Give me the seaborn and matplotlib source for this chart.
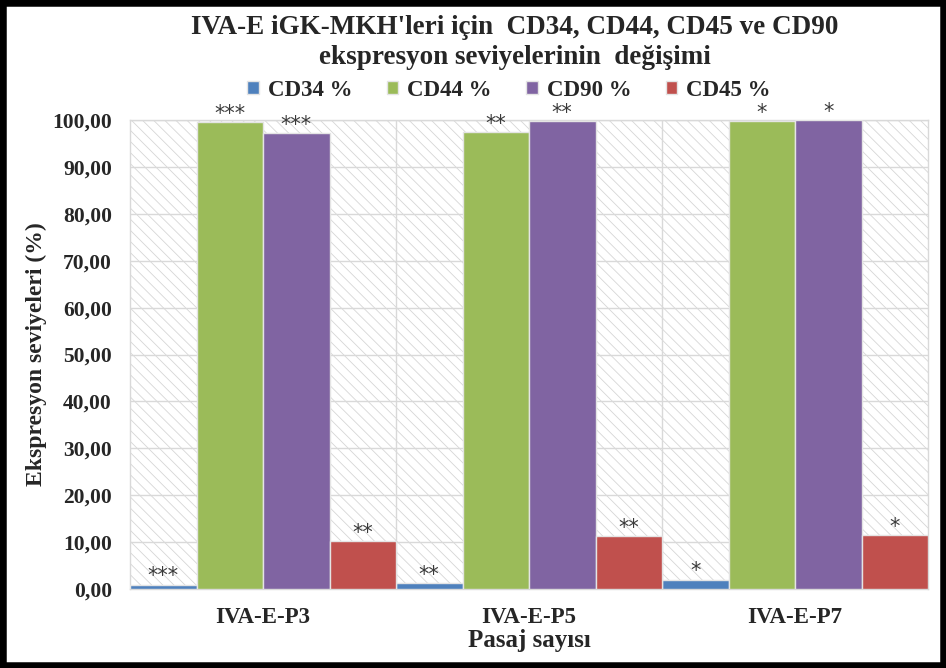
import matplotlib
matplotlib.use("Agg")
import matplotlib.pyplot as plt
from matplotlib.patches import Rectangle
import seaborn as sns
import pandas as pd

groups = ["IVA-E-P3", "IVA-E-P5", "IVA-E-P7"]
markers = ["CD34 %", "CD44 %", "CD90 %", "CD45 %"]
cd34 = [0.9, 1.3, 2.0]
cd44 = [99.5, 97.4, 99.8]
cd90 = [97.2, 99.8, 99.9]
cd45 = [10.2, 11.3, 11.5]
sig_cd34 = ["***", "**", "*"]
sig_cd44 = ["***", "**", "*"]
sig_cd90 = ["***", "**", "*"]
sig_cd45 = ["**", "**", "*"]
yticks = [0, 10, 20, 30, 40, 50, 60, 70, 80, 90, 100]

colors = ["#4F81BD", "#9BBB59", "#8064A2", "#C0504D"]

rows = []
for m, vals in zip(markers, [cd34, cd44, cd90, cd45]):
    for g, v in zip(groups, vals):
        rows.append({"Pasaj": g, "Marker": m, "Value": v})
df = pd.DataFrame(rows)

sns.set_style("white")
plt.rcParams["font.family"] = ["Liberation Serif", "DejaVu Serif"]
plt.rcParams["hatch.linewidth"] = 0.6

fig = plt.figure(figsize=(9.46, 6.68), dpi=100)
ax = fig.add_axes([130 / 946, 1 - 589 / 668, (928 - 130) / 946, (589 - 120) / 668])

# hatched background
bg = Rectangle((0, 0), 1, 1, transform=ax.transAxes, facecolor="white",
               edgecolor="#d6d6d6", hatch="\\\\\\", linewidth=0, zorder=0.1)
ax.add_patch(bg)

sns.barplot(data=df, x="Pasaj", y="Value", hue="Marker", hue_order=markers,
            order=groups, palette=colors, saturation=1, width=1.0, gap=0,
            dodge=True, edgecolor="#e4e4e4", linewidth=1.0, ax=ax, zorder=3)

ax.set_ylim(0, 100)
ax.set_xlim(-0.5, 2.5)
ax.set_yticks(yticks)
ax.set_yticklabels([f"{t:.2f}".replace(".", ",") for t in yticks],
                   fontsize=15.5, fontweight="bold")
for lbl in ax.get_xticklabels():
    lbl.set_fontsize(16.5)
    lbl.set_fontweight("bold")
ax.tick_params(axis="y", length=0, pad=13)
ax.tick_params(axis="x", length=0, pad=13)

ax.grid(axis="y", color="#d9d9d9", linewidth=1.0, zorder=0.5)
for xb in [0.5, 1.5]:
    ax.axvline(xb, color="#d9d9d9", linewidth=1.0, zorder=0.5)
for s in ax.spines.values():
    s.set_color("#d9d9d9")
    s.set_linewidth(1.0)

ax.set_xlabel("Pasaj sayısı", fontsize=18, fontweight="bold", labelpad=1)
ax.set_ylabel("Ekspresyon seviyeleri (%)", fontsize=17, fontweight="bold", labelpad=4)

# significance labels
for cont, sigs in zip(ax.containers, [sig_cd34, sig_cd44, sig_cd90, sig_cd45]):
    for bar, sig in zip(cont.patches, sigs):
        ax.annotate(sig, (bar.get_x() + bar.get_width() / 2, bar.get_height()),
                    xytext=(0, 6), textcoords="offset points", ha="center",
                    va="center", fontsize=15, color="#3a3a3a",
                    annotation_clip=False, zorder=5,
                    family=["DejaVu Sans"])

handles, labels = ax.get_legend_handles_labels()
if ax.get_legend() is not None:
    ax.get_legend().remove()
fig.legend(handles, labels, loc="center", bbox_to_anchor=(509 / 946, 1 - 90 / 668),
           ncol=4, frameon=False, handlelength=0.5, handleheight=0.5,
           handletextpad=0.4, columnspacing=1.5,
           prop={"family": "Liberation Serif", "weight": "bold", "size": 16.5})

fig.text(515 / 946, 1 - 27 / 668, "IVA-E iGK-MKH'leri için  CD34, CD44, CD45 ve CD90",
         ha="center", va="center", fontsize=19.5, fontweight="bold")
fig.text(515 / 946, 1 - 57 / 668, "ekspresyon seviyelerinin  değişimi",
         ha="center", va="center", fontsize=19.5, fontweight="bold")

# black frame
fig.patches.append(Rectangle((0, 0), 1, 1, transform=fig.transFigure, fill=False,
                             edgecolor="black", linewidth=9, zorder=10))

fig.savefig("out.png", dpi=100)
